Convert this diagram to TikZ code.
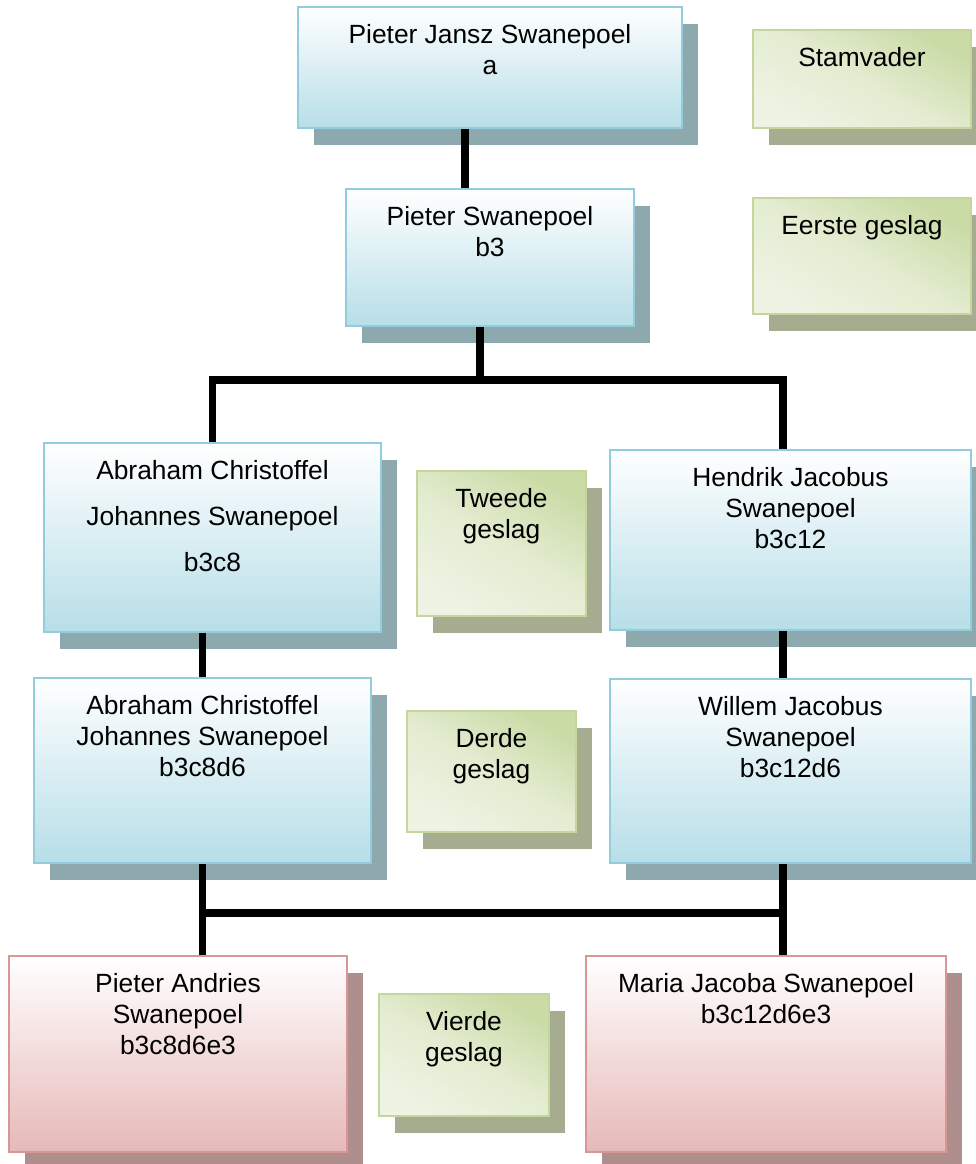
\documentclass[tikz,border=0pt]{standalone}
\usepackage{fontspec}
\setmainfont{Liberation Sans}
\usetikzlibrary{shadows}

\definecolor{blourand}{HTML}{93CDDD}
\definecolor{blouvul}{HTML}{B7DEE8}
\definecolor{blouskadu}{HTML}{8DA9AE}
\definecolor{rooirand}{HTML}{D99694}
\definecolor{rooivul}{HTML}{E6B9B8}
\definecolor{rooiskadu}{HTML}{AF8F8E}
\definecolor{groenrand}{HTML}{C3D69B}
\definecolor{groendonker}{HTML}{CADBA6}
\definecolor{groenlig}{HTML}{EEF3E3}
\definecolor{groenskadu}{HTML}{A6AC8F}

\begin{document}
\begin{tikzpicture}[x=0.02cm,y=-0.02cm,
   font=\fontsize{15}{17.6}\selectfont,
   blok/.style 2 args={anchor=north west,minimum width=#1*0.02cm,minimum height=#2*0.02cm,line width=1.1pt,inner sep=0pt},
   teks/.style={label={[anchor=north,yshift=-10.5pt,align=center,inner sep=0pt]north:#1}},
   blou/.style={draw=blourand,top color=white,bottom color=blouvul,middle color=blouvul!50,
      drop shadow={shadow xshift=0.32cm,shadow yshift=-0.34cm,fill=blouskadu,opacity=1}},
   rooi/.style={draw=rooirand,top color=white,bottom color=rooivul,middle color=rooivul!50,
      drop shadow={shadow xshift=0.32cm,shadow yshift=-0.34cm,fill=rooiskadu,opacity=1}},
   groen/.style={draw=groenrand,top color=groendonker,bottom color=groenlig,middle color=groenlig!70!groendonker,shading angle=-30,
      drop shadow={shadow xshift=0.32cm,shadow yshift=-0.34cm,fill=groenskadu,opacity=1}},
   lyn/.style={line width=4.5pt,black}]
   \useasboundingbox (0,0) rectangle (975,1164);

   % generasies
   \node[blok={218}{98},groen,teks={Stamvader}]          (stamvader) at (752,29)  {};
   \node[blok={218}{116},groen,teks={Eerste geslag}]     (eerste)    at (752,197) {};
   \node[blok={169}{145},groen,teks={Tweede\\geslag}]    (tweede)    at (416,470) {};
   \node[blok={169}{121},groen,teks={Derde\\geslag}]     (derde)     at (406,710) {};
   \node[blok={170}{122},groen,teks={Vierde\\geslag}]    (vierde)    at (378,993) {};

   % persone
   \node[blok={384}{121},blou,teks={Pieter Jansz Swanepoel\\a}]                (pjs)  at (297,6)   {};
   \node[blok={288}{137},blou,teks={Pieter Swanepoel\\b3}]                     (ps)   at (345,188) {};
   \node[blok={337}{189},blou,teks={Abraham Christoffel\\[8.5pt]Johannes Swanepoel\\[8.5pt]b3c8}] (acj) at (43,442) {};
   \node[blok={361}{180},blou,teks={Hendrik Jacobus\\Swanepoel\\b3c12}]        (hjs)  at (609,449) {};
   \node[blok={337}{185},blou,teks={Abraham Christoffel\\Johannes Swanepoel\\b3c8d6}] (acjd) at (33,677) {};
   \node[blok={361}{184},blou,teks={Willem Jacobus\\Swanepoel\\b3c12d6}]       (wjs)  at (609,678) {};
   \node[blok={338}{196},rooi,teks={Pieter Andries\\Swanepoel\\b3c8d6e3}]      (pas)  at (8,955)   {};
   \node[blok={360}{196},rooi,teks={Maria Jacoba Swanepoel\\b3c12d6e3}]        (mjs)  at (585,955) {};

   \coordinate (kol1) at (465,0);
   \coordinate (tak1) at (480,380);
   \coordinate (tak2) at (783,913);

   \draw[lyn] (pjs.south -| kol1) -- (ps.north -| kol1);
   \draw[lyn] (ps.south -| tak1) -- (tak1);
   \draw[lyn] (acj.north) |- (tak1) -| (hjs.north -| tak2);
   \draw[lyn] (acjd.north |- acj.south) -- (acjd.north);
   \draw[lyn] (hjs.south -| tak2) -- (wjs.north -| tak2);
   \draw[lyn] (acjd.south) -- (acjd.south |- pas.north);
   \draw[lyn] (acjd.south |- tak2) -- (tak2);
   \draw[lyn] (wjs.south -| tak2) -- (mjs.north -| tak2);
\end{tikzpicture}
\end{document}
